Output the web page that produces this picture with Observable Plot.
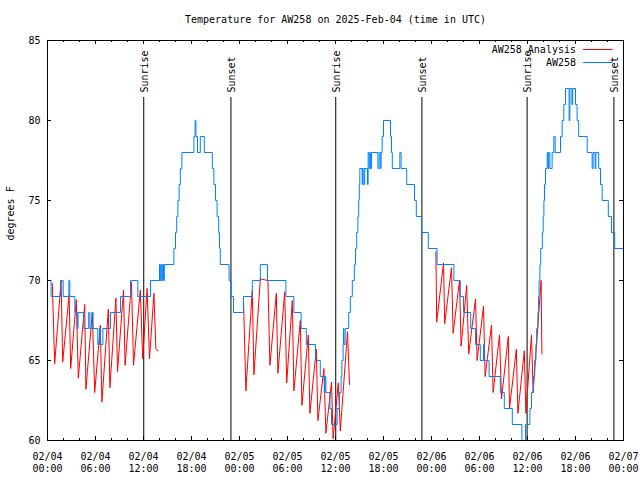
<!DOCTYPE html>
<html><head><meta charset="utf-8">
<script src="https://cdn.jsdelivr.net/npm/d3@7"></script>
<script src="https://cdn.jsdelivr.net/npm/@observablehq/plot@0.6"></script>
<style>body{margin:0;background:#fff}</style>
</head><body><div id="chart"></div>
<script>
const title = "Temperature for AW258 on 2025-Feb-04 (time in UTC)";
const yLabel = "degrees F";
const seriesNames = ["AW258 Analysis", "AW258"];
const seriesColors = ["#ff0000", "#0080ff"];
const yTicks = [60, 65, 70, 75, 80, 85];
const sunHours = [12.03, 22.93, 36.03, 46.8, 59.95, 70.8];
const sunLabels = ["Sunrise", "Sunset", "Sunrise", "Sunset", "Sunrise", "Sunset"];

// observed AW258 (hours after 2025-02-04 00:00 UTC, °F), drawn as steps
const blueHours = [0, 0.45, 1.62, 1.96, 2.67, 2.79, 3.42, 3.72, 3.82, 4.54, 5.15, 5.3, 5.58, 5.7, 6.29, 6.5, 6.6, 6.92, 7.875, 9.125, 10.375, 11.29, 12.875,
  14.0, 14.1, 14.2, 14.3, 14.4, 14.5, 14.6, 15.8, 16.0, 16.15, 16.3, 16.45, 16.6, 16.8, 16.95, 18.3, 18.45, 18.55, 18.75, 19.1, 19.6,
  20.6, 20.8, 21.0, 21.2, 21.4, 21.5, 21.6, 22.7, 22.95, 23.25, 24.5, 25.6, 26.6, 27.5, 29.8, 30.8, 31.7, 32.35, 33.5, 34.1, 34.6, 34.7, 34.8,
  35.3, 35.5, 36.2, 36.5, 36.7, 36.8, 36.95, 37.0, 37.05, 37.2, 37.65, 37.85, 38.1, 38.35, 38.5, 38.65, 38.8, 38.9, 38.97, 39.04,
  39.33, 39.4, 39.55, 39.65, 40.0, 40.08, 40.2, 40.3, 40.4, 40.5, 41.3, 41.45, 41.6, 41.7, 41.83, 42.0, 42.875, 43.0, 43.1, 44.04, 44.2,
  44.9, 45.875, 46.1, 46.75, 47.6, 48.7, 50.8, 51.6, 52.0, 52.9, 53.5, 54.1, 54.5, 54.6, 55.2, 56.6, 57.1, 58.1, 59.3, 59.75,
  60.3, 60.5, 60.75, 60.9, 61.05, 61.15, 61.3, 61.38, 61.45, 61.55, 61.65, 61.85, 61.96, 62.05, 62.125, 62.25, 62.46, 62.55, 62.65, 62.8,
  63.08, 63.29, 63.46, 64.125, 64.33, 64.54, 64.75, 65.2, 65.3, 65.55, 65.65, 66.0, 66.2, 66.4, 67.46, 68.08, 68.2, 68.45, 68.55, 68.9, 69.125, 69.33,
  70.1, 70.5, 70.9, 72];
const blueTemps = [70, 69, 70, 69, 70, 69, 68, 67, 68, 67, 68, 67, 68, 67, 66, 67, 66, 67, 68, 69, 70, 69, 70,
  71, 70, 71, 70, 71, 70, 71, 72, 73, 74, 75, 76, 77, 78, 78, 79, 80, 79, 78, 79, 78,
  77, 76, 75, 74, 73, 72, 71, 70, 69, 68, 69, 70, 71, 70, 69, 68, 67, 66, 65, 64, 63, 64, 63,
  62, 61, 62, 63, 64, 65, 66, 67, 66, 67, 68, 69, 70, 71, 72, 73, 74, 75, 76, 77,
  76, 77, 76, 77, 76, 78, 77, 78, 77, 78, 77, 78, 77, 78, 79, 80, 79, 78, 77, 78, 77,
  76, 75, 74, 73, 72, 71, 70, 69, 68, 67, 66, 65, 66, 65, 64, 63, 62, 61, 60, 61,
  62, 63, 64, 65, 66, 67, 68, 69, 70, 71, 72, 73, 74, 75, 76, 77, 78, 77, 78, 77,
  78, 79, 78, 79, 80, 81, 82, 80, 82, 81, 82, 81, 80, 79, 78, 77, 78, 77, 78, 77, 76, 75,
  74, 73, 72, 72];

// AW258 Analysis, three windows
const redHours1 = [0.6, 0.9, 1.7, 1.9, 2.7, 2.9, 3.6, 3.85, 4.65, 4.8, 5.6, 5.9, 6.6, 6.8, 7.6, 7.8, 8.55, 8.75, 9.5, 9.7, 10.5, 10.75, 11.6, 11.9, 12.45, 12.75, 13.3, 13.55, 13.8];
const redTemps1 = [69.8, 64.8, 70.0, 64.9, 69.1, 64.5, 68.8, 63.9, 68.5, 63.2, 68.0, 63.0, 67.2, 62.4, 68.2, 63.3, 68.9, 64.3, 69.4, 64.7, 69.9, 64.7, 69.4, 65.1, 69.5, 65.1, 69.2, 65.7, 65.6];
const redHours2 = [24.5, 24.8, 25.6, 25.8, 26.6, 27.55, 27.8, 28.6, 28.8, 29.65, 29.9, 30.6, 30.8, 31.6, 31.8, 32.6, 32.8, 33.6, 33.8, 34.55, 34.8, 35.5, 35.7, 36.35, 36.6, 37.5, 37.75];
const redTemps2 = [68.75, 63.1, 69.4, 64.1, 70.1, 70.0, 64.7, 69.2, 64.2, 69.3, 63.6, 68.75, 63.1, 67.5, 62.2, 66.6, 61.7, 65.7, 61.25, 64.5, 60.45, 63.65, 60.1, 63.6, 60.6, 66.8, 63.5];
const redHours3 = [48.55, 48.65, 49.5, 49.65, 50.5, 50.7, 51.5, 51.7, 52.4, 52.65, 53.5, 53.7, 54.5, 54.7, 55.5, 55.7, 56.5, 56.75, 57.6, 57.75, 58.6, 58.8, 59.6, 59.8, 60.5, 60.7, 61.7, 61.8];
const redTemps3 = [71.8, 67.4, 71.1, 67.3, 70.8, 66.7, 70.0, 65.9, 69.7, 65.4, 68.85, 65.0, 68.4, 64.0, 67.2, 63.0, 66.6, 62.6, 66.5, 62.0, 65.7, 61.7, 65.6, 61.7, 66.6, 63.0, 70.0, 65.4];

const t0 = Date.UTC(2025, 1, 4);
const toDate = h => new Date(t0 + h * 3600000);

const blue = blueHours.map((h, i) => ({t: toDate(h), v: blueTemps[i]}));
const red = [[redHours1, redTemps1], [redHours2, redTemps2], [redHours3, redTemps3]]
  .flatMap(([hs, vs], s) => hs.map((h, i) => ({t: toDate(h), v: vs[i], seg: s})));
const sun = sunHours.map((h, i) => ({t: toDate(h), label: sunLabels[i]}));

const xDomain = [toDate(0), toDate(72)];
const majorTicks = d3.utcHour.every(6).range(toDate(0), toDate(72.01));
const minorTicks = d3.utcHour.every(2).range(toDate(0), toDate(72.01));
const fmt = d3.utcFormat("%m/%d\n%H:%M");
const font = "DejaVu Sans Mono";

const legend = (index, scales, values, dims) => {
  const g = d3.create("svg:g").attr("font-family", font).attr("font-size", 10);
  const right = dims.width - dims.marginRight;
  seriesNames.forEach((n, i) => {
    const y = dims.marginTop + 9.5 + i * 13;
    g.append("text").attr("x", right - 47).attr("y", y).attr("dy", "0.32em")
      .attr("text-anchor", "end").attr("fill", "black").text(n);
    g.append("line").attr("x1", right - 40).attr("x2", right - 10.5)
      .attr("y1", y).attr("y2", y).attr("stroke", seriesColors[i]);
  });
  return g.node();
};

const chart = Plot.plot({
  width: 640, height: 480,
  marginLeft: 47, marginRight: 17, marginTop: 40, marginBottom: 40,
  style: {fontFamily: font, fontSize: "10px", background: "white", color: "black"},
  x: {type: "utc", domain: xDomain, axis: null},
  y: {domain: [60, 85], axis: null},
  marks: [
    Plot.ruleX(sun, {x: "t", insetTop: 57, stroke: "black"}),
    Plot.text(sun, {x: "t", text: "label", frameAnchor: "top", lineAnchor: "middle", rotate: -90, textAnchor: "start", dy: 52, dx: 1, fill: "black"}),
    Plot.line(red, {x: "t", y: "v", z: "seg", stroke: seriesColors[0], strokeWidth: 1}),
    Plot.line(blue, {x: "t", y: "v", curve: "step-after", stroke: seriesColors[1], strokeWidth: 1}),
    Plot.frame({stroke: "black"}),
    Plot.ruleX(majorTicks, {x: d => d, insetTop: 396, stroke: "black"}),
    Plot.ruleX(majorTicks, {x: d => d, insetBottom: 396, stroke: "black"}),
    Plot.ruleX(minorTicks, {x: d => d, insetTop: 398, stroke: "black"}),
    Plot.ruleX(minorTicks, {x: d => d, insetBottom: 398, stroke: "black"}),
    Plot.ruleY(yTicks, {y: d => d, insetRight: 572, stroke: "black"}),
    Plot.ruleY(yTicks, {y: d => d, insetLeft: 572, stroke: "black"}),
    Plot.axisY({ticks: yTicks, tickSize: 0, tickPadding: 7, label: null, fontSize: 10}),
    Plot.text(majorTicks, {x: d => d, text: d => fmt(d), frameAnchor: "bottom", lineAnchor: "top", dy: 11, lineHeight: 1.17, fill: "black"}),
    Plot.text([yLabel], {text: d => d, frameAnchor: "left", rotate: -90, dx: -37, fill: "black"}),
    Plot.text([title], {text: d => d, frameAnchor: "top", lineAnchor: "middle", dy: -21, fill: "black"}),
    legend
  ]
});
document.getElementById("chart").append(chart);
</script>
</body></html>
